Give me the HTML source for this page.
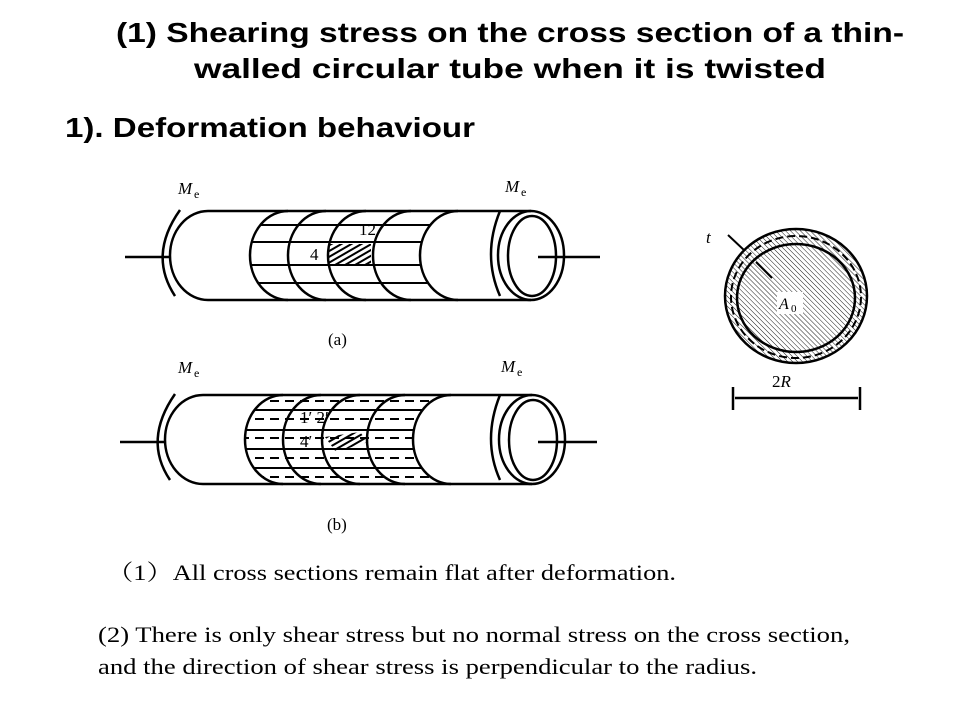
<!DOCTYPE html>
<html><head><meta charset="utf-8"><style>
html,body{margin:0;padding:0;background:#fff;width:960px;height:720px;overflow:hidden}
svg{display:block}
.t{font-family:"Liberation Sans",sans-serif;font-weight:bold;fill:#000}
.s{font-family:"Liberation Serif","Noto Serif CJK SC",serif;fill:#000}
</style></head><body>
<svg width="960" height="720" viewBox="0 0 960 720" xmlns="http://www.w3.org/2000/svg">
<defs>
<pattern id="h" width="3.5" height="3.5" patternUnits="userSpaceOnUse" patternTransform="rotate(-45)">
<line x1="0" y1="0" x2="0" y2="3.5" stroke="#000" stroke-width="0.9"/></pattern>
<pattern id="h2" width="5" height="5" patternUnits="userSpaceOnUse" patternTransform="rotate(-30)">
<line x1="0" y1="2" x2="5" y2="2" stroke="#000" stroke-width="2"/></pattern>
<clipPath id="ca"><path d="M288,211 A38,44.5 0 0 0 288,300 L458,300 A38,44.5 0 0 1 458,211 Z"/></clipPath>
<clipPath id="cb"><path d="M283,395 A38,44.5 0 0 0 283,484 L451,484 A38,44.5 0 0 1 451,395 Z"/></clipPath>
</defs>

<text class="t" x="510" y="42" font-size="28" text-anchor="middle" textLength="788" lengthAdjust="spacingAndGlyphs">(1) Shearing stress on the cross section of a thin-</text>
<text class="t" x="510" y="78" font-size="28" text-anchor="middle" textLength="632" lengthAdjust="spacingAndGlyphs">walled circular tube when it is twisted</text>
<text class="t" x="65" y="137" font-size="28" textLength="410" lengthAdjust="spacingAndGlyphs">1). Deformation behaviour</text>

<g fill="none" stroke="#000" stroke-width="2.5">
<!-- (a) -->
<line x1="125" y1="257" x2="170" y2="257"/>
<path d="M180,210 Q148,255 175,296"/>
<line x1="208" y1="211" x2="531" y2="211"/>
<line x1="208" y1="300" x2="531" y2="300"/>
<path d="M208,211 A38,44.5 0 0 0 208,300"/>
<g clip-path="url(#ca)" stroke-width="2">
<line x1="240" y1="225" x2="470" y2="225"/><line x1="240" y1="242" x2="470" y2="242"/>
<line x1="240" y1="265" x2="470" y2="265"/><line x1="240" y1="283" x2="470" y2="283"/>
</g>
<path d="M288,211 A38,44.5 0 0 0 288,300"/>
<path d="M326,211 A38,44.5 0 0 0 326,300"/>
<path d="M366,211 A38,44.5 0 0 0 366,300"/>
<path d="M411,211 A38,44.5 0 0 0 411,300"/>
<path d="M458,211 A38,44.5 0 0 0 458,300"/>
<rect x="329" y="244" width="42" height="20" fill="url(#h2)" stroke="none"/>
<ellipse cx="531" cy="255.5" rx="33" ry="44.5"/>
<ellipse cx="532" cy="256" rx="24" ry="40"/>
<path d="M500,211 Q482,255 500,296"/>
<line x1="538" y1="257" x2="600" y2="257"/>

<!-- (b) -->
<line x1="120" y1="442" x2="165" y2="442"/>
<path d="M175,394 Q143,440 170,480"/>
<line x1="203" y1="395" x2="532" y2="395"/>
<line x1="203" y1="484" x2="532" y2="484"/>
<path d="M203,395 A38,44.5 0 0 0 203,484"/>
<g clip-path="url(#cb)" stroke-width="2">
<line x1="240" y1="410" x2="470" y2="410"/><line x1="240" y1="430" x2="470" y2="430"/>
<line x1="240" y1="449" x2="470" y2="449"/><line x1="240" y1="468" x2="470" y2="468"/>
<g stroke-dasharray="9,6">
<line x1="240" y1="401" x2="470" y2="401"/><line x1="240" y1="419" x2="470" y2="419"/>
<line x1="240" y1="438" x2="470" y2="438"/><line x1="240" y1="458" x2="470" y2="458"/>
<line x1="240" y1="477" x2="470" y2="477"/>
</g></g>
<path d="M283,395 A38,44.5 0 0 0 283,484"/>
<path d="M321,395 A38,44.5 0 0 0 321,484"/>
<path d="M360,395 A38,44.5 0 0 0 360,484"/>
<path d="M405,395 A38,44.5 0 0 0 405,484"/>
<path d="M451,395 A38,44.5 0 0 0 451,484"/>
<path d="M325,437 L360,432 L368,442 L336,452 Z" fill="url(#h2)" stroke="none"/>
<ellipse cx="532" cy="439.5" rx="33" ry="44.5"/>
<ellipse cx="533" cy="440" rx="24" ry="40"/>
<path d="M500,395 Q482,440 500,480"/>
<line x1="538" y1="442" x2="597" y2="442"/>

<!-- cross section -->
<ellipse cx="796" cy="296" rx="71" ry="67" fill="url(#h)"/>
<ellipse cx="796" cy="297" rx="65" ry="61" stroke-dasharray="8,4" stroke-width="2"/>
<ellipse cx="796" cy="298" rx="59" ry="54"/>
<line x1="728" y1="235" x2="745" y2="251" stroke-width="2"/>
<line x1="756" y1="262" x2="772" y2="278" stroke-width="2"/>
<line x1="735" y1="398" x2="858" y2="398"/>
<line x1="733" y1="387" x2="733" y2="410"/>
<line x1="860" y1="387" x2="860" y2="410"/>
</g>
<rect x="777" y="292" width="26" height="22" fill="#fff"/>

<g class="s" font-size="17">
<text x="178" y="194" font-style="italic">M</text><text x="194" y="198" font-size="12">e</text>
<text x="505" y="192" font-style="italic">M</text><text x="521" y="196" font-size="12">e</text>
<text x="178" y="373" font-style="italic">M</text><text x="194" y="377" font-size="12">e</text>
<text x="501" y="372" font-style="italic">M</text><text x="517" y="376" font-size="12">e</text>
<text x="359" y="235">12</text>
<text x="310" y="260">4</text>
<text x="300" y="423">1′ 2′</text>
<text x="300" y="447">4′</text>
<text x="328" y="345">(a)</text>
<text x="327" y="530">(b)</text>
<text x="706" y="243" font-style="italic">t</text>
<text x="779" y="309" font-style="italic" font-size="16">A</text><text x="791" y="312" font-size="11">0</text>
<text x="772" y="387">2<tspan font-style="italic">R</tspan></text>
</g>
<g class="s" font-size="22">
<text x="107" y="580" textLength="569" lengthAdjust="spacingAndGlyphs">（1）All cross sections remain flat after deformation.</text>
<text x="98" y="642" textLength="752" lengthAdjust="spacingAndGlyphs">(2) There is only shear stress but no normal stress on the cross section,</text>
<text x="98" y="674" textLength="659" lengthAdjust="spacingAndGlyphs">and the direction of shear stress is perpendicular to the radius.</text>
</g>
</svg>
</body></html>
